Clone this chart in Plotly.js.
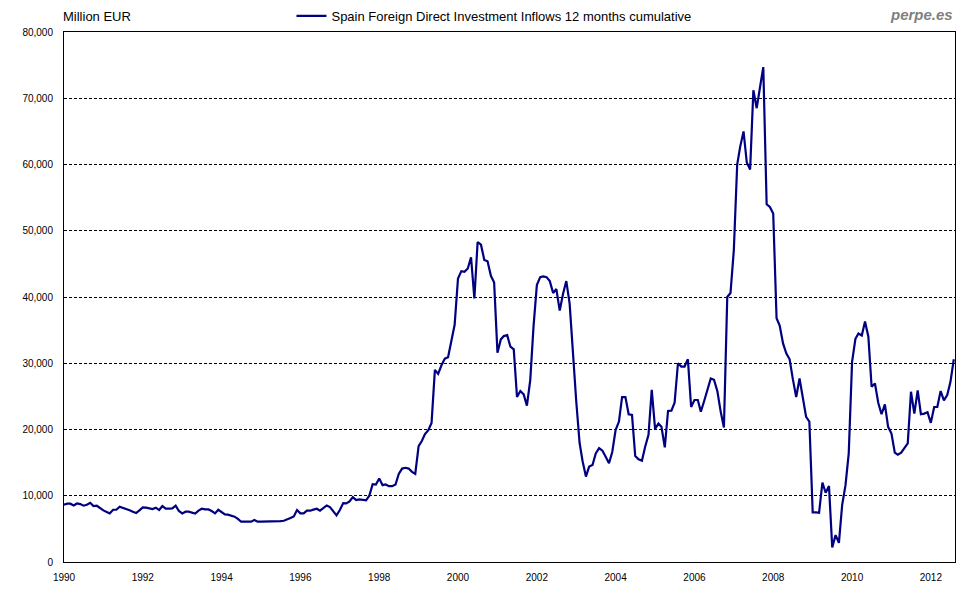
<!DOCTYPE html>
<html>
<head>
<meta charset="utf-8">
<script src="https://cdn.plot.ly/plotly-3.0.1.min.js"></script>
<style>html,body{margin:0;padding:0;background:#fff;}#chart{width:980px;height:600px;}</style>
</head>
<body>
<div id="chart"></div>
<script>
// Spain FDI inflows, 12 months cumulative, million EUR (monthly, Jan 1990 - Aug 2012)
var startYear = 1990, startMonth = 1;
var fdi1990_1997 = [
  8640, 8800, 8800, 8540, 8840, 8740, 8500, 8640, 8940, 8440, 8490, 8090,
  7790, 7540, 7340, 7890, 7890, 8340, 8190, 8000, 7800, 7600, 7390, 7800,
  8240, 8200, 8050, 8000, 8200, 7840, 8450, 8050, 8050, 8090, 8490, 7700,
  7340, 7600, 7590, 7440, 7300, 7750, 8040, 7940, 7940, 7700, 7340, 7890,
  7540, 7190, 7140, 7040, 6840, 6500, 6080, 6080, 6080, 6080, 6330, 6080,
  6080, 6080, 6080, 6080, 6080, 6150, 6180, 6230, 6380, 6630, 6880, 7840,
  7340, 7340, 7740, 7740, 7900, 8040, 7740, 8090, 8540, 8300, 7700, 7040,
  7840, 8890, 8840, 9150, 9800, 9350, 9450, 9400, 9300, 10000, 11760, 11700
];
var fdi1998_2005 = [
  12610, 11600, 11700, 11450, 11450, 11700, 13300, 14100, 14220, 14100, 13600, 13300,
  17500, 18300, 19300, 19900, 21000, 29000, 28400, 29700, 30700, 30900, 33300, 35800,
  42800, 43900, 43800, 44300, 46000, 39800, 48300, 47900, 45600, 45400, 43200, 42200,
  31600, 33600, 34100, 34250, 32500, 32100, 24900, 25800, 25300, 23600, 27500, 35500,
  41800, 43000, 43100, 43000, 42400, 40600, 41200, 37950, 40500, 42400, 39000, 31500,
  24300, 18000, 15200, 12900, 14400, 14650, 16400, 17200, 16800, 15900, 14900, 16600,
  19900, 21200, 24900, 24900, 22300, 22200, 16000, 15500, 15300, 17400, 19200, 26000,
  20100, 20900, 20400, 17300, 22800, 22840, 24050, 30000, 29500, 29500, 30600, 23400
];
var fdi2006_2012 = [
  24450, 24450, 22700, 24300, 25900, 27700, 27500, 25800, 22700, 20300, 40000, 40600,
  47100, 60000, 62700, 65000, 60300, 59250, 71200, 68500, 71700, 74700, 54000, 53600,
  52600, 36800, 35700, 33000, 31500, 30600, 27600, 24900, 27700, 24600, 21900, 21200,
  7500, 7500, 7430, 12000, 10450, 11460, 2200, 4060, 2900, 8600, 11600, 16400,
  30200, 33700, 34500, 34200, 36300, 34000, 26450, 26950, 24000, 22300, 23800, 20400,
  19400, 16500, 16200, 16500, 17100, 17900, 25700, 22400, 25900, 22300, 22400, 22600,
  21000, 23400, 23400, 25800, 24400, 25200, 27200, 30600
];
var seriesName = 'Spain Foreign Direct Investment Inflows 12 months cumulative';
var unitLabel = 'Million EUR';
var sourceLabel = 'perpe.es';

var values = fdi1990_1997.concat(fdi1998_2005, fdi2006_2012);
var dates = values.map(function (v, i) {
  var m = startMonth - 1 + i;
  var y = startYear + Math.floor(m / 12);
  var mm = (m % 12) + 1;
  return y + '-' + (mm < 10 ? '0' : '') + mm + '-01';
});

var FONT = 'Liberation Sans, Arial, sans-serif';
var trace = {
  x: dates, y: values, type: 'scatter', mode: 'lines', name: seriesName,
  line: {color: '#000080', width: 2.2}, hoverinfo: 'skip'
};
var layout = {
  width: 980, height: 600,
  margin: {l: 64, r: 25, t: 32, b: 38, autoexpand: false},
  paper_bgcolor: '#fff', plot_bgcolor: '#fff',
  font: {family: FONT, size: 10, color: '#000'},
  showlegend: true,
  legend: {orientation: 'h', x: 0.2553, xanchor: 'left', y: (562 - 16) / 530, yanchor: 'middle',
           font: {family: FONT, size: 13, color: '#000'}, bgcolor: 'rgba(0,0,0,0)'},
  xaxis: {
    type: 'date', range: ['1990-01-01', '2012-08-12'],
    tick0: '1990-01-01', dtick: 'M24', tickformat: '%Y',
    showgrid: false, zeroline: false, showline: true, mirror: true,
    linecolor: '#000', linewidth: 1, ticks: '', ticklabelstandoff: 6,
    tickfont: {family: FONT, size: 10, color: '#000'}
  },
  yaxis: {
    range: [0, 80000], dtick: 10000, tickformat: ',',
    showgrid: true, gridcolor: '#000', gridwidth: 1, griddash: '3px,2px',
    zeroline: false, showline: true, mirror: true,
    linecolor: '#000', linewidth: 1, ticks: '', ticklabelstandoff: 8,
    tickfont: {family: FONT, size: 10, color: '#000'}
  },
  annotations: [
    {text: unitLabel, xref: 'paper', yref: 'paper', x: 0, y: (562 - 16) / 530,
     xanchor: 'left', yanchor: 'middle', xshift: -3, showarrow: false,
     font: {family: FONT, size: 13, color: '#000'}},
    {text: '<b><i>' + sourceLabel + '</i></b>', xref: 'paper', yref: 'paper',
     x: (953 - 64) / 891, y: (562 - 14) / 530, xanchor: 'right', yanchor: 'middle',
     xshift: 2, showarrow: false, font: {family: FONT, size: 15, color: '#7f7f7f'}}
  ]
};
Plotly.newPlot('chart', [trace], layout, {displayModeBar: false, staticPlot: true});
</script>
</body>
</html>
